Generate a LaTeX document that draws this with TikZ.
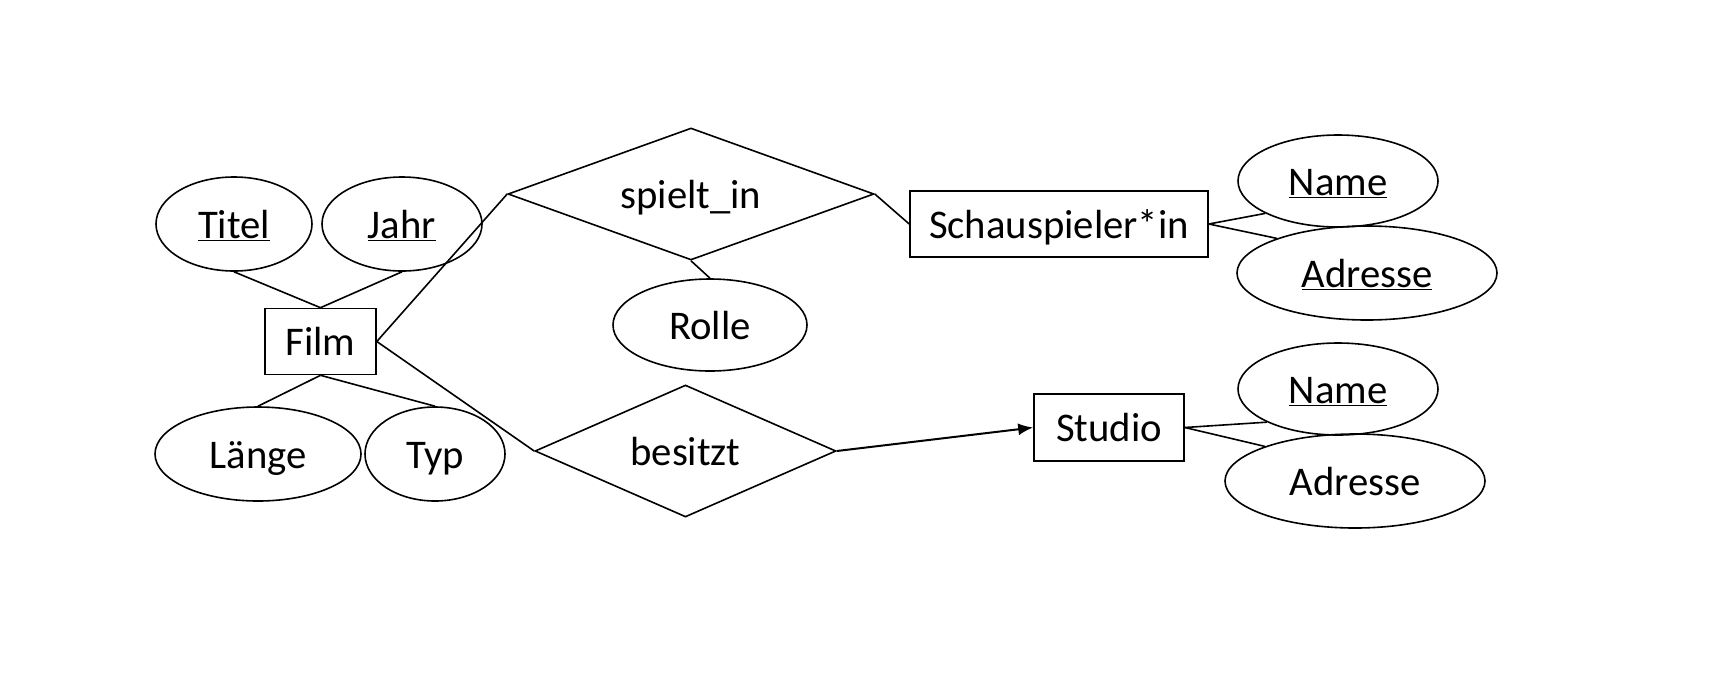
\documentclass[tikz,border=0pt]{standalone}
\usepackage{fontspec}
\setmainfont{Carlito}
\usetikzlibrary{shapes.geometric,arrows.meta}
\newcommand{\ulx}[1]{\underline{#1}}
\tikzset{
  base/.style={draw=black, line width=1.6pt, inner sep=0pt, text height=30.5pt, text depth=2.5pt, font=\fontsize{40.7}{48}\selectfont},
  entity/.style={base, rectangle},
  attr/.style={base, ellipse},
  rel/.style={base, diamond},
  conn/.style={line width=1.6pt}
}
\begin{document}
\begin{tikzpicture}[x=1pt,y=-1pt]
\useasboundingbox (0,0) rectangle (1722,673);
% entities
\node[entity, minimum width=111, minimum height=66] (film) at (320.5,341.5) {Film};
\node[entity, minimum width=298, minimum height=66] (schau) at (1059,224) {Schauspieler*in};
\node[entity, minimum width=150, minimum height=67] (studio) at (1109,427.5) {Studio};
% relationships
\node[rel, aspect=2.77, minimum width=366, minimum height=132] (spielt) at (691,194) {spielt\_in};
\node[rel, aspect=2.28, minimum width=301, minimum height=132] (besitzt) at (685.5,451) {besitzt};
% attributes
\node[attr, minimum width=156, minimum height=94] (titel) at (234,224) {\ulx{Titel}};
\node[attr, minimum width=160, minimum height=94] (jahr) at (402,224) {\ulx{Jahr}};
\node[attr, minimum width=206, minimum height=94] (laenge) at (258,454) {Länge};
\node[attr, minimum width=140, minimum height=94] (typ) at (435,454) {Typ};
\node[attr, minimum width=194, minimum height=92] (rolle) at (710,325) {Rolle};
\node[attr, minimum width=200, minimum height=92] (name1) at (1338,181) {\ulx{Name}};
\node[attr, minimum width=260, minimum height=94] (adr1) at (1367,273) {\ulx{Adresse}};
\node[attr, minimum width=200, minimum height=92] (name2) at (1338,389) {\ulx{Name}};
\node[attr, minimum width=260, minimum height=94] (adr2) at (1355,481) {Adresse};
% connectors
\draw[conn] (titel.south) -- (film.north);
\draw[conn] (jahr.south) -- (film.north);
\draw[conn] (film.south) -- (laenge.north);
\draw[conn] (film.south) -- (typ.north);
\draw[conn] (film.east) -- (spielt.west);
\draw[conn] (film.east) -- (besitzt.west);
\draw[conn] (spielt.east) -- (schau.west);
\draw[conn] (spielt.south) -- (rolle.north);
\draw[conn, line width=2pt, -{Latex[length=15pt,width=12pt]}] (besitzt.east) -- (studio.west);
\draw[conn] (schau.east) -- (name1.204);
\draw[conn] (schau.east) -- (adr1.159);
\draw[conn] (studio.east) -- (name2.205);
\draw[conn] (studio.east) -- (adr2.159);
\end{tikzpicture}
\end{document}
